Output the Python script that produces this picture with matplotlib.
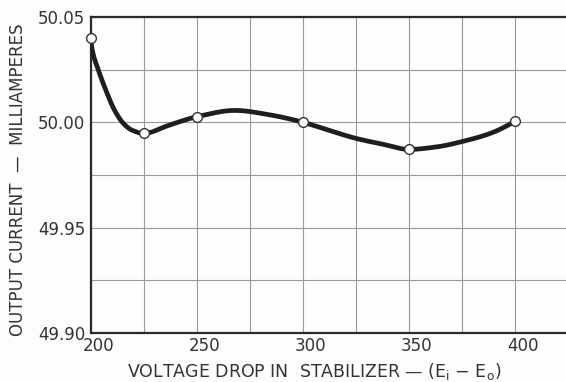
import numpy as np
import matplotlib
matplotlib.use("Agg")
import matplotlib.pyplot as plt
from matplotlib.transforms import ScaledTranslation

# Measured points (markers)
volts = [200, 225, 250, 300, 350, 400]
current = [50.040, 49.9947, 50.0026, 50.000, 49.9871, 50.0005]

# Curve trace (smooth line through the markers)
curve_v = [200, 200.8, 203.7, 207.2, 211.3, 215.5, 219.4, 225, 237, 250,
           268, 285, 300, 313.4, 325.2, 338, 350, 363, 375.7, 388.3, 400]
curve_i = [50.040, 50.0342, 50.0247, 50.0152, 50.0057, 49.9994, 49.9963,
           49.9947, 49.9986, 50.0026, 50.0056, 50.0034, 50.000, 49.9958,
           49.9923, 49.9895, 49.9871, 49.9883, 49.9910, 49.9947, 50.0005]

x_ticks = [200, 250, 300, 350, 400]
y_ticks = [49.90, 49.95, 50.00, 50.05]
x_label = "VOLTAGE DROP IN  STABILIZER \u2014 (E$_\\mathregular{i}$ \u2212 E$_\\mathregular{o}$)"
y_label = "OUTPUT CURRENT  \u2014  MILLIAMPERES"


def pchip(x, y, xs):
    x = np.asarray(x, float); y = np.asarray(y, float)
    h = np.diff(x); d = np.diff(y) / h
    n = len(x)
    m = np.zeros(n)
    for k in range(1, n - 1):
        if d[k - 1] * d[k] <= 0:
            m[k] = 0.0
        else:
            w1 = 2 * h[k] + h[k - 1]
            w2 = h[k] + 2 * h[k - 1]
            m[k] = (w1 + w2) / (w1 / d[k - 1] + w2 / d[k])
    def end(h0, h1, d0, d1):
        mm = ((2 * h0 + h1) * d0 - h0 * d1) / (h0 + h1)
        if np.sign(mm) != np.sign(d0):
            mm = 0.0
        elif np.sign(d0) != np.sign(d1) and abs(mm) > abs(3 * d0):
            mm = 3 * d0
        return mm
    m[0] = end(h[0], h[1], d[0], d[1])
    m[-1] = end(h[-1], h[-2], d[-1], d[-2])
    xs = np.asarray(xs, float)
    idx = np.clip(np.searchsorted(x, xs) - 1, 0, n - 2)
    t = (xs - x[idx]) / h[idx]
    h00 = 2 * t**3 - 3 * t**2 + 1
    h10 = t**3 - 2 * t**2 + t
    h01 = -2 * t**3 + 3 * t**2
    h11 = t**3 - t**2
    return h00 * y[idx] + h10 * h[idx] * m[idx] + h01 * y[idx + 1] + h11 * h[idx] * m[idx + 1]


txt = "#333333"
plt.rcParams["font.family"] = ["DejaVu Sans"]

fig = plt.figure(figsize=(5.66, 3.82), dpi=100, facecolor="#fdfdfd")
ax = fig.add_axes([0.160, 0.128, 0.840, 0.828])
ax.set_facecolor("#fdfdfd")

xs = np.linspace(curve_v[0], curve_v[-1], 1200)
ax.plot(xs, pchip(curve_v, curve_i, xs), color="#1e1e1e", lw=3.4,
        solid_capstyle="round", solid_joinstyle="round", zorder=3)
ax.plot(volts, current, "o", ms=7, mfc="white", mec="#333333", mew=1.0,
        zorder=4, clip_on=False)

ax.set_xlim(200, 424)
ax.set_ylim(49.90, 50.05)
ax.set_xticks(x_ticks)
ax.set_xticks(np.arange(225, 424, 50), minor=True)
ax.set_yticks(y_ticks)
ax.set_yticks([49.925, 49.975, 50.025], minor=True)
ax.set_yticklabels([f"{v:.2f}" for v in y_ticks])
ax.grid(True, which="both", color="#9a9a9a", lw=0.8)
ax.tick_params(which="both", length=0, labelsize=12, labelcolor=txt)
ax.tick_params(axis="x", pad=3)
ax.tick_params(axis="y", pad=4)
for lab in ax.get_xticklabels():
    lab.set_transform(lab.get_transform() + ScaledTranslation(8 / 100, 0, fig.dpi_scale_trans))

for side in ("left", "bottom", "top"):
    ax.spines[side].set_color("#2a2a2a")
    ax.spines[side].set_linewidth(1.6)
ax.spines["right"].set_visible(False)

fig.text(314 / 566, 1 - 371.7 / 382, x_label, ha="center", va="center",
         fontsize=12.5, color=txt)
fig.text(18 / 566, 1 - 180 / 382, y_label, ha="center", va="center",
         rotation=90, fontsize=12, color=txt)

fig.savefig("out.png", dpi=100, facecolor=fig.get_facecolor())
